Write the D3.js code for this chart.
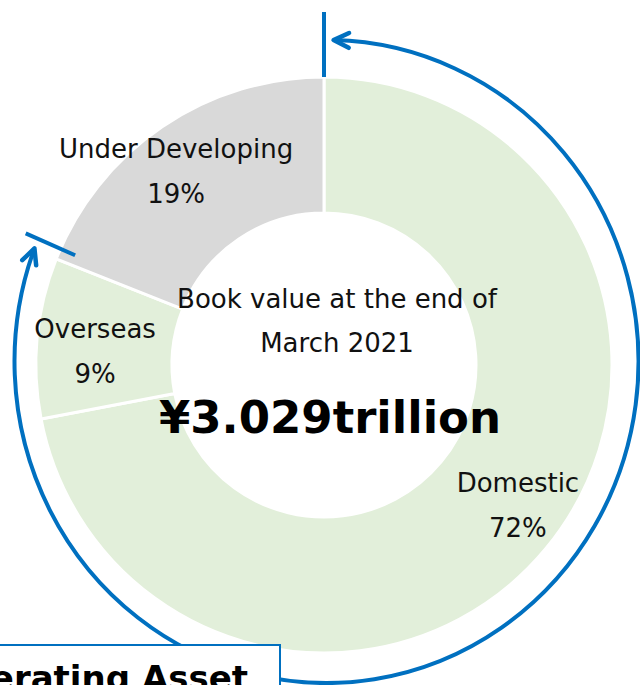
<!DOCTYPE html>
<html>
<head>
<meta charset="utf-8">
<script src="https://cdn.jsdelivr.net/npm/d3@7"></script>
<style>
  body { margin: 0; background: #fff; }
  svg { display: block; font-family: "DejaVu Sans", Verdana, sans-serif; }
</style>
</head>
<body>
<div id="chart"></div>
<script>
// chart data
const categories = ["Domestic", "Overseas", "Under Developing"];
const shares = [72, 9, 19];
const sliceColors = ["#e2efda", "#e2efda", "#d9d9d9"];
const centerLines = ["Book value at the end of", "March 2021"];
const totalLabel = "¥3.029trillion";
const bracketLabel = "Operating Asset";

const width = 640;
const height = 685;
const cx = 324, cy = 365;
const outerR = 288, innerR = 152;
const blue = "#0070c0";

const svg = d3.select("#chart")
    .append("svg")
    .attr("width", width)
    .attr("height", height);

const g = svg.append("g")
    .attr("transform", `translate(${cx},${cy})`);

const pie = d3.pie().sort(null).value(d => d);
const arcs = pie(shares);

const arc = d3.arc()
    .innerRadius(innerR)
    .outerRadius(outerR);

g.selectAll("path.slice")
    .data(arcs)
    .enter()
    .append("path")
    .attr("class", "slice")
    .attr("d", arc)
    .attr("fill", (d, i) => sliceColors[i])
    .attr("stroke", "#fff")
    .attr("stroke-width", 3);

// slice labels: centroid on a wider ring, nudged a little
const labelArc = d3.arc().innerRadius(240).outerRadius(240);
const nudges = [[9, -13], [10, 9], [-13, 4]];

arcs.forEach((d, i) => {
  const [x, y] = labelArc.centroid(d);
  const t = g.append("text")
      .attr("text-anchor", "middle")
      .attr("font-size", 26)
      .attr("fill", "#111");
  t.append("tspan")
      .attr("x", x + nudges[i][0])
      .attr("y", y + nudges[i][1] - 13)
      .text(categories[i]);
  t.append("tspan")
      .attr("x", x + nudges[i][0])
      .attr("y", y + nudges[i][1] + 32)
      .text(shares[i] + "%");
});

// centre text
centerLines.forEach((s, i) => {
  g.append("text")
      .attr("x", 13)
      .attr("y", -57 + i * 44)
      .attr("text-anchor", "middle")
      .attr("font-size", 26)
      .attr("fill", "#111")
      .text(s);
});

g.append("text")
    .attr("x", 6)
    .attr("y", 68)
    .attr("text-anchor", "middle")
    .attr("font-size", 45)
    .attr("font-weight", "bold")
    .attr("fill", "#000")
    .text(totalLabel);

// bracket arc around Domestic + Overseas
const ex = 326.5, ey = 361.5, rx = 312, ry = 321.5;
const endBoundary = arcs[1].endAngle;
const a0 = 1.3 * Math.PI / 180;
const a1 = endBoundary - 1 * Math.PI / 180;
const pt = a => [ex + rx * Math.sin(a), ey - ry * Math.cos(a)];
const [x0, y0] = pt(a0);
const [x1, y1] = pt(a1);

svg.append("path")
    .attr("d", `M${x0},${y0} A${rx},${ry} 0 1 1 ${x1},${y1}`)
    .attr("fill", "none")
    .attr("stroke", blue)
    .attr("stroke-width", 4);

// open arrow heads at both ends
function arrowHead(x, y, dx, dy) {
  const len = Math.hypot(dx, dy);
  const ux = dx / len, uy = dy / len;
  const L = 17, spread = 0.45;
  const p = s => {
    const c = Math.cos(s), sn = Math.sin(s);
    const bx = -(ux * c - uy * sn), by = -(ux * sn + uy * c);
    return [x + bx * L, y + by * L];
  };
  const l = p(spread), r = p(-spread);
  svg.append("path")
      .attr("d", `M${l[0]},${l[1]} L${x},${y} L${r[0]},${r[1]}`)
      .attr("fill", "none")
      .attr("stroke", blue)
      .attr("stroke-width", 4.5)
      .attr("stroke-linecap", "round")
      .attr("stroke-linejoin", "round");
}
arrowHead(x0, y0, -rx * Math.cos(a0), -ry * Math.sin(a0));
arrowHead(x1, y1, rx * Math.cos(a1), ry * Math.sin(a1));

// end ticks
const tickAt = (a, r0, r1) => {
  const s = Math.sin(a), c = Math.cos(a);
  svg.append("line")
      .attr("x1", cx + r0 * s).attr("y1", cy - r0 * c)
      .attr("x2", cx + r1 * s).attr("y2", cy - r1 * c)
      .attr("stroke", blue)
      .attr("stroke-width", 4);
};
tickAt(0, outerR, 353);
tickAt(endBoundary + 2.2 * Math.PI / 180, 272, 326);

// label box, mostly below the frame
svg.append("rect")
    .attr("x", -60)
    .attr("y", 645)
    .attr("width", 340)
    .attr("height", 80)
    .attr("fill", "#fff")
    .attr("stroke", blue)
    .attr("stroke-width", 2);

svg.append("text")
    .attr("x", 248)
    .attr("y", 690)
    .attr("text-anchor", "end")
    .attr("font-size", 34)
    .attr("font-weight", "bold")
    .attr("fill", "#000")
    .text(bracketLabel);
</script>
</body>
</html>
